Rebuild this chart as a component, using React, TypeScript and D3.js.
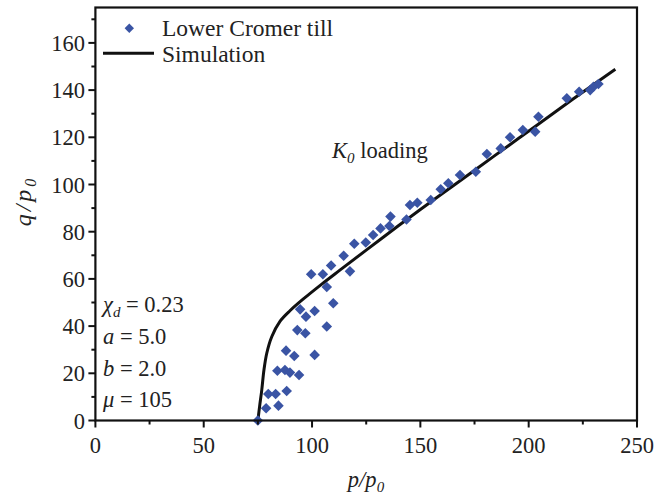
import React from "react";
import * as d3 from "d3";

// Experimental data: Lower Cromer till
const expP = [75, 78.8, 79.8, 83.2, 84.5, 88.3, 84, 87.5, 89.8, 94, 88, 91.8, 101.2, 93.2, 96.9, 106.8, 97.2, 94.5, 101.2, 109.8, 106.8, 99.6, 105, 108.8, 117.5, 114.6, 119.5, 124.8, 128.2, 131.6, 136.2, 135.7, 143.6, 145.2, 148.6, 154.8, 159.4, 162.9, 168.3, 175.6, 180.7, 187.1, 191.4, 197.3, 203, 204.5, 217.6, 223.3, 228.4, 229.9, 232.2];
const expQ = [0, 5.2, 11.2, 11.2, 6.3, 12.5, 21.1, 21.4, 20.3, 19.3, 29.6, 27.3, 27.8, 38.3, 37, 39.8, 44, 47.1, 46.4, 49.7, 56.6, 62, 62, 65.7, 63.2, 69.8, 74.9, 75.4, 78.6, 81.4, 86.4, 82.4, 85.2, 91.3, 92.3, 93.4, 98, 100.5, 104, 105.4, 112.9, 115.3, 120, 123.1, 122.4, 128.7, 136.5, 139.3, 140, 141.4, 142.6];

// Simulation curve
const simP = [75, 75.8, 76.8, 77.8, 79.1, 81.4, 85.2, 89.8, 96, 104.5, 113, 125, 140, 150, 165, 176, 190, 203, 220, 240];
const simQ = [0, 6, 13, 21.4, 28.5, 35.5, 42, 46.5, 51.5, 57.8, 63.8, 72.2, 82.6, 89.4, 99.4, 106.7, 116, 124.6, 135.9, 148.8];

const xTicks = [0, 50, 100, 150, 200, 250];
const xMinor = [25, 75, 125, 175, 225];
const yTicks = [0, 20, 40, 60, 80, 100, 120, 140, 160];
const yMinor = [10, 30, 50, 70, 90, 110, 130, 150, 170];

const legendLabels = ["Lower Cromer till", "Simulation"];
const paramNames = ["a", "b", "μ"];
const paramValues = ["5.0", "2.0", "105"];
const chiValue = "0.23";

const FONT = "'Liberation Serif', 'Times New Roman', serif";
const BLUE = "#3a54a4";

export default function App() {
  const W = 655, H = 498;
  const left = 95.4, right = 637, top = 7.5, bottom = 420.5;
  const x = d3.scaleLinear().domain([0, 250]).range([left, right]);
  const y = d3.scaleLinear().domain([0, 175]).range([bottom, top]);

  const sim = simP.map((p, i) => [p, simQ[i]] as [number, number]);
  const line = d3
    .line<[number, number]>()
    .x((d) => x(d[0]))
    .y((d) => y(d[1]))
    .curve(d3.curveCatmullRom.alpha(0.5));

  const diamond = d3.symbol().type(d3.symbolSquare).size(56)()!;
  const diamondLeg = d3.symbol().type(d3.symbolSquare).size(44)()!;

  const fs = 22.5;

  return (
    <svg
      width={W}
      height={H}
      style={{ position: "absolute", left: 0, top: 0, background: "#fff" }}
      fontFamily={FONT}
    >
      {/* curve */}
      <path d={line(sim) || ""} fill="none" stroke="#111" strokeWidth={3} />

      {/* points */}
      {expP.map((p, i) => (
        <path
          key={i}
          d={diamond}
          transform={`translate(${x(p)},${y(expQ[i])}) rotate(45)`}
          fill={BLUE}
        />
      ))}

      {/* frame */}
      <rect
        x={left}
        y={top}
        width={right - left}
        height={bottom - top}
        fill="none"
        stroke="#111"
        strokeWidth={2.2}
      />

      {/* x ticks */}
      {xTicks.map((t) => (
        <g key={"xt" + t}>
          <line x1={x(t)} x2={x(t)} y1={bottom} y2={bottom + 7} stroke="#111" strokeWidth={2} />
          <text x={x(t)} y={453} textAnchor="middle" fontSize={fs} fill="#222">
            {t}
          </text>
        </g>
      ))}
      {xMinor.map((t) => (
        <line key={"xm" + t} x1={x(t)} x2={x(t)} y1={bottom} y2={bottom + 4} stroke="#111" strokeWidth={2} />
      ))}

      {/* y ticks */}
      {yTicks.map((t) => (
        <g key={"yt" + t}>
          <line x1={left - 7} x2={left} y1={y(t)} y2={y(t)} stroke="#111" strokeWidth={2} />
          <text x={85} y={y(t) + 8} textAnchor="end" fontSize={fs} fill="#222">
            {t}
          </text>
        </g>
      ))}
      {yMinor.map((t) => (
        <line key={"ym" + t} x1={left - 4} x2={left} y1={y(t)} y2={y(t)} stroke="#111" strokeWidth={2} />
      ))}

      {/* axis labels */}
      <text x={366} y={487} textAnchor="middle" fontSize={fs} fontStyle="italic" fill="#222">
        p/p<tspan fontSize={15} dy={5}>0</tspan>
      </text>
      <text
        transform="translate(31,201) rotate(-90)"
        textAnchor="middle"
        fontSize={24}
        fontStyle="italic"
        fill="#222"
        letterSpacing={3}
      >
        q/p<tspan fontSize={16} dy={5}>0</tspan>
      </text>

      {/* legend */}
      <path d={diamondLeg} transform="translate(129.3,28.3) rotate(45)" fill={BLUE} />
      <text x={162} y={36} fontSize={23.5} fill="#222">
        {legendLabels[0]}
      </text>
      <line x1={103} x2={154} y1={53.3} y2={53.3} stroke="#111" strokeWidth={3} />
      <text x={162} y={61.5} fontSize={23.5} fill="#222">
        {legendLabels[1]}
      </text>

      {/* K0 loading */}
      <text x={332} y={158} fontSize={fs} fill="#222">
        <tspan fontStyle="italic">K</tspan>
        <tspan fontStyle="italic" fontSize={15} dy={5}>0</tspan>
        <tspan dy={-5}> loading</tspan>
      </text>

      {/* parameters */}
      <text x={103} y={312} fontSize={fs} fill="#222">
        <tspan fontStyle="italic">χ</tspan>
        <tspan fontStyle="italic" fontSize={15} dy={5}>d</tspan>
        <tspan dy={-5}> = {chiValue}</tspan>
      </text>
      {paramNames.map((n, i) => (
        <text key={n} x={103} y={344 + i * 31.5} fontSize={fs} fill="#222">
          <tspan fontStyle="italic">{n}</tspan>
          <tspan> = {paramValues[i]}</tspan>
        </text>
      ))}
    </svg>
  );
}
